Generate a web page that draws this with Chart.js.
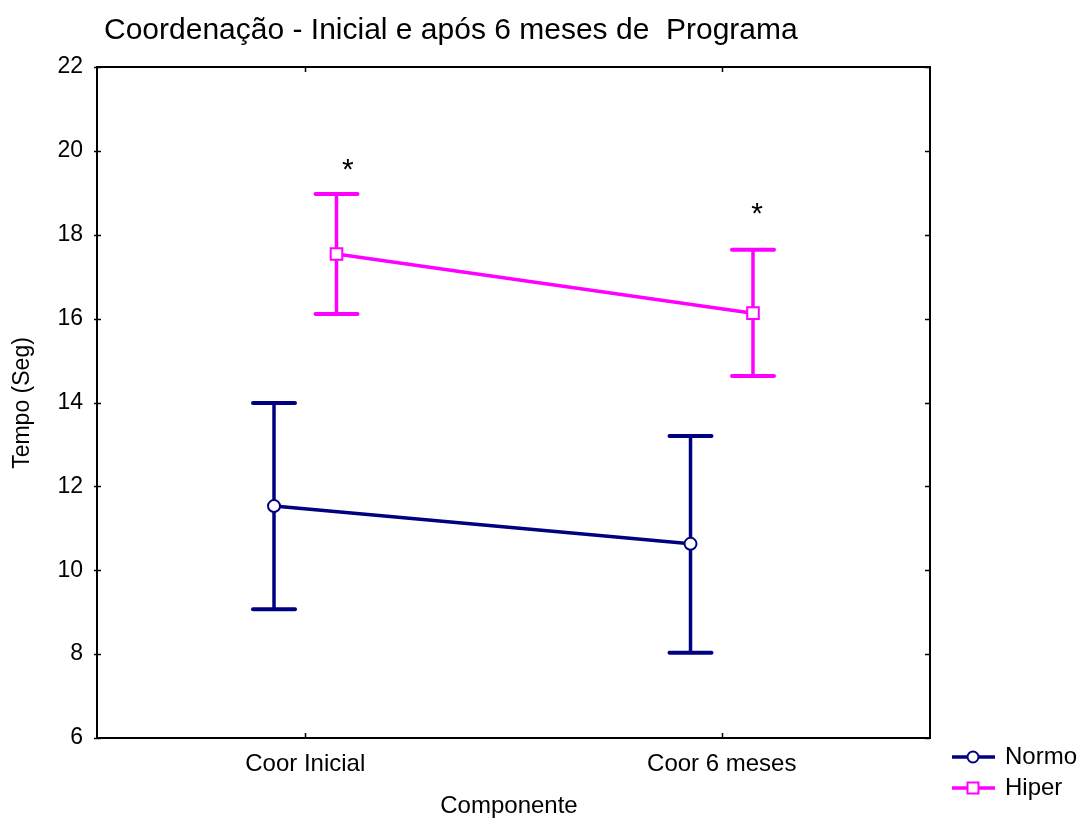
<!DOCTYPE html>
<html>
<head>
<meta charset="utf-8">
<script src="https://cdn.jsdelivr.net/npm/chart.js@4/dist/chart.umd.min.js"></script>
<style>
  html, body { margin: 0; padding: 0; background: #fff; }
  #wrap { width: 1077px; height: 820px; }
</style>
</head>
<body>
<div id="wrap"><canvas id="c" width="1077" height="820"></canvas></div>
<script>
// Categories and group means with their error-bar limits
const categories = ['Coor Inicial', 'Coor 6 meses'];
const seriesNames = ['Normo', 'Hiper'];
const normoMean = [11.53, 10.63];
const normoLow  = [9.07, 8.03];
const normoHigh = [13.99, 13.20];
const hiperMean = [17.54, 16.13];
const hiperLow  = [16.11, 14.63];
const hiperHigh = [18.97, 17.64];
const yTicks = [6, 8, 10, 12, 14, 16, 18, 20, 22];
const titleText = 'Coordenação - Inicial e após 6 meses de  Programa';
const xTitle = 'Componente';
const yTitle = 'Tempo (Seg)';
// significance markers, in axis units: [x on the 0..4 axis, y]
const starMarks = [[1.205, 19.62], [3.17, 18.58]];

const NAVY = '#000080';
const MAGENTA = '#ff00ff';
const FONT = "'Liberation Sans', Arial, sans-serif";
const GROUP_SHIFT = 0.15;           // horizontal spread of the two groups inside a category
const catPos = i => 2 * i + 1;      // category centres on a 0..4 linear axis

function points(means, shift) {
  return means.map((v, i) => ({ x: catPos(i) + shift, y: v }));
}

const series = [
  { label: seriesNames[0], color: NAVY, style: 'circle', radius: 6, mean: normoMean, low: normoLow, high: normoHigh, shift: -GROUP_SHIFT },
  { label: seriesNames[1], color: MAGENTA, style: 'rect', radius: 8.2, mean: hiperMean, low: hiperLow, high: hiperHigh, shift: GROUP_SHIFT }
];

// error bars with caps, drawn under the markers
const errorBars = {
  id: 'errorBars',
  beforeDatasetsDraw(chart) {
    const { ctx, scales: { x, y } } = chart;
    ctx.save();
    series.forEach(s => {
      ctx.strokeStyle = s.color;
      s.mean.forEach((m, i) => {
        const px = x.getPixelForValue(catPos(i) + s.shift);
        const pl = y.getPixelForValue(s.low[i]);
        const ph = y.getPixelForValue(s.high[i]);
        ctx.lineCap = 'butt';
        ctx.lineWidth = 3.5;
        ctx.beginPath(); ctx.moveTo(px, pl); ctx.lineTo(px, ph); ctx.stroke();
        ctx.lineWidth = 4;
        ctx.lineCap = 'round';
        [pl, ph].forEach(py => {
          ctx.beginPath(); ctx.moveTo(px - 21, py); ctx.lineTo(px + 21, py); ctx.stroke();
        });
      });
    });
    ctx.restore();
  }
};

// frame, tick marks, titles, significance marks and legend
const decorations = {
  id: 'decorations',
  afterDraw(chart) {
    const { ctx, chartArea: a, scales: { x, y } } = chart;
    ctx.save();
    ctx.strokeStyle = '#000';
    ctx.lineWidth = 2;
    ctx.strokeRect(a.left, a.top, a.right - a.left, a.bottom - a.top);
    ctx.lineWidth = 1.5;
    yTicks.forEach(v => {
      const py = Math.round(y.getPixelForValue(v)) + 0.5;
      ctx.beginPath(); ctx.moveTo(a.left - 3, py); ctx.lineTo(a.left + 4, py); ctx.stroke();
      ctx.beginPath(); ctx.moveTo(a.right - 5, py); ctx.lineTo(a.right, py); ctx.stroke();
    });
    categories.forEach((c, i) => {
      const px = Math.round(x.getPixelForValue(catPos(i))) + 0.5;
      ctx.beginPath(); ctx.moveTo(px, a.bottom - 5); ctx.lineTo(px, a.bottom); ctx.stroke();
      ctx.beginPath(); ctx.moveTo(px, a.top); ctx.lineTo(px, a.top + 5); ctx.stroke();
    });

    ctx.fillStyle = '#000';
    ctx.textBaseline = 'middle';
    ctx.textAlign = 'left';
    ctx.font = '30px ' + FONT;
    ctx.fillText(titleText, 104, 31);

    ctx.font = '24px ' + FONT;
    ctx.textAlign = 'center';
    ctx.fillText(xTitle, 509, 806);
    ctx.font = '23px ' + FONT;
    ctx.save();
    ctx.translate(23, 403);
    ctx.rotate(-Math.PI / 2);
    ctx.fillText(yTitle, 0, 0);
    ctx.restore();

    ctx.font = '30px ' + FONT;
    starMarks.forEach(([sx, sy]) => {
      ctx.fillText('*', x.getPixelForValue(sx), y.getPixelForValue(sy) + 4);
    });

    // legend
    ctx.font = '24px ' + FONT;
    series.forEach((s, k) => {
      const ly = 757 + k * 31;
      ctx.strokeStyle = s.color;
      ctx.lineWidth = 3.5;
      ctx.beginPath(); ctx.moveTo(952, ly); ctx.lineTo(995, ly); ctx.stroke();
      ctx.fillStyle = '#fff';
      ctx.lineWidth = 2;
      ctx.beginPath();
      if (s.style === 'circle') ctx.arc(973, ly, 5.5, 0, Math.PI * 2);
      else ctx.rect(967.5, ly - 5.5, 11, 11);
      ctx.fill(); ctx.stroke();
      ctx.fillStyle = '#000';
      ctx.textAlign = 'left';
      ctx.fillText(s.label, 1005, ly);
    });
    ctx.restore();
  }
};

new Chart(document.getElementById('c'), {
  type: 'line',
  data: {
    datasets: series.map(s => ({
      label: s.label,
      data: points(s.mean, s.shift),
      borderColor: s.color,
      borderWidth: 3.5,
      pointStyle: s.style,
      pointRadius: s.radius,
      pointBorderWidth: 2,
      pointBackgroundColor: '#fff',
      pointBorderColor: s.color,
      fill: false,
      tension: 0
    }))
  },
  options: {
    responsive: false,
    animation: false,
    devicePixelRatio: 1,
    layout: { padding: { left: 0, top: 67, right: 147, bottom: 0 } },
    plugins: { legend: { display: false }, tooltip: { enabled: false }, title: { display: false } },
    scales: {
      x: {
        type: 'linear',
        min: 0, max: 4,
        grid: { display: false, drawTicks: false },
        border: { display: false },
        afterBuildTicks: sc => { sc.ticks = categories.map((c, i) => ({ value: catPos(i) })); },
        afterFit: sc => { sc.height = 82; },
        ticks: {
          color: '#000',
          padding: 12,
          font: { family: FONT, size: 24 },
          maxRotation: 0,
          callback: v => categories[(v - 1) / 2]
        }
      },
      y: {
        min: 6, max: 22,
        grid: { display: false, drawTicks: false },
        border: { display: false },
        afterBuildTicks: sc => { sc.ticks = yTicks.map(v => ({ value: v })); },
        afterFit: sc => { sc.width = 97; },
        ticks: {
          color: '#000',
          padding: 14,
          font: { family: FONT, size: 23 }
        }
      }
    }
  },
  plugins: [errorBars, decorations]
});
</script>
</body>
</html>
